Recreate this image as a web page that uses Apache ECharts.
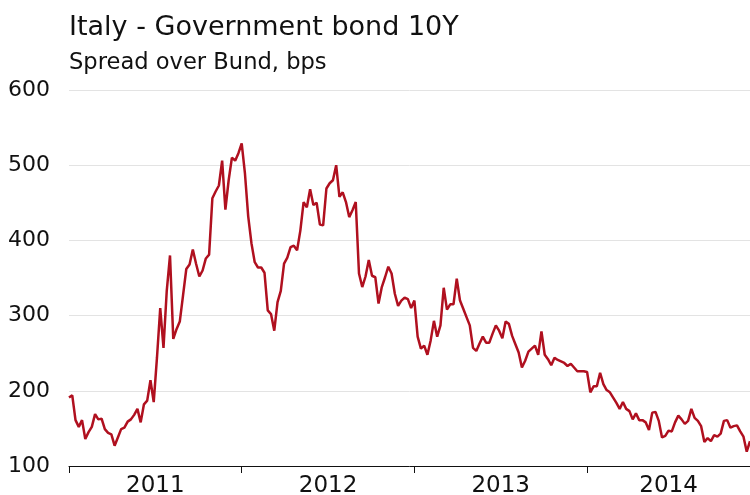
<!DOCTYPE html>
<html>
<head>
<meta charset="utf-8">
<script src="https://cdn.jsdelivr.net/npm/echarts@6/dist/echarts.min.js"></script>
<style>
  html, body { margin: 0; padding: 0; background: #fff; }
  #chart { width: 750px; height: 495px; }
</style>
</head>
<body>
<div id="chart"></div>
<script>
// weekly spread over Bund (bps)
const spread = [
  191, 194, 161, 152, 161, 136, 145, 152, 169, 162, 163, 149, 144, 142, 127, 138,
  149, 151, 159, 162, 168, 176, 158, 182, 187, 214, 185, 244, 310, 257, 333, 380,
  269, 282, 292, 327, 362, 368, 388, 369, 352, 360, 376, 381, 456, 465, 473, 506,
  441, 480, 510, 506, 516, 529, 489, 432, 396, 371, 364, 364, 357, 307,
  302, 280, 318, 333, 369, 377, 391, 393, 387, 413, 451, 444, 468, 447, 450, 421,
  420, 469, 476, 480, 500, 458, 464, 451, 431, 440, 451, 356, 338, 352, 374, 353,
  351, 316, 338, 351, 365, 356, 329, 313, 320, 324, 322, 310, 320, 272, 256, 260,
  248, 267, 293, 272, 287, 337, 308, 315, 315, 349, 320, 309, 298, 287, 257, 253,
  263, 272, 264, 264, 276, 287, 280, 270, 292, 289, 273, 262, 251, 231, 240, 252,
  256, 260, 248, 279, 248, 242, 234, 244, 241, 239, 237, 233, 236, 231, 226,
  226, 226, 225, 198, 206, 206, 224, 209, 201, 198, 191, 184, 176, 185, 176, 173,
  162, 170, 161, 161, 158, 148, 171, 172, 160, 138, 140, 147, 146, 158, 167,
  162, 156, 160, 176, 164, 160, 153, 132, 137, 133, 141, 139, 143, 160, 161, 151,
  153, 154, 146, 139, 119, 133
];
const years = ["2011", "2012", "2013", "2014"];
// index of the first week of each year in spread
const yearStart = [0, 53, 106, 159];
const yMin = 100;
const yMax = 600;
const yStep = 100;

const lastWeek = spread.length - 1;
const yearMid = yearStart.map((s, i) => (s + (i + 1 < yearStart.length ? yearStart[i + 1] : lastWeek)) / 2);

const font = "DejaVu Sans";
const myChart = echarts.init(document.getElementById("chart"));
myChart.setOption({
  animation: false,
  backgroundColor: "#fff",
  title: {
    text: "Italy - Government bond 10Y",
    subtext: "Spread over Bund, bps",
    left: 64,
    top: 9,
    itemGap: 11,
    textStyle: {
      fontFamily: font,
      fontSize: 27,
      fontWeight: "normal",
      color: "#111",
    },
    subtextStyle: {
      fontFamily: font,
      fontSize: 22.6,
      color: "#111",
    },
  },
  grid: {
    left: 69,
    right: 0,
    top: 90,
    bottom: 29,
    outerBoundsMode: "none",
  },
  xAxis: {
    type: "value",
    min: 0,
    max: lastWeek,
    splitLine: { show: false },
    axisLine: { show: true, lineStyle: { color: "#111", width: 1 } },
    axisTick: {
      show: true,
      customValues: yearStart,
      length: 7,
      lineStyle: { color: "#111" },
    },
    axisLabel: {
      customValues: yearMid,
      formatter: (v) => years[yearMid.indexOf(v)],
      fontFamily: font,
      fontSize: 23,
      color: "#111",
      margin: 9,
    },
  },
  yAxis: {
    type: "value",
    min: yMin,
    max: yMax,
    interval: yStep,
    axisLine: { show: false },
    axisTick: { show: false },
    splitLine: { lineStyle: { color: "#e3e3e3", width: 1 } },
    axisLabel: {
      fontFamily: font,
      fontSize: 22,
      color: "#111",
      margin: 19,
    },
  },
  series: [
    {
      type: "line",
      data: spread.map((v, i) => [i, v]),
      showSymbol: false,
      lineStyle: { color: "#b0101f", width: 2.5 },
      itemStyle: { color: "#b0101f" },
    },
  ],
});
</script>
</body>
</html>
